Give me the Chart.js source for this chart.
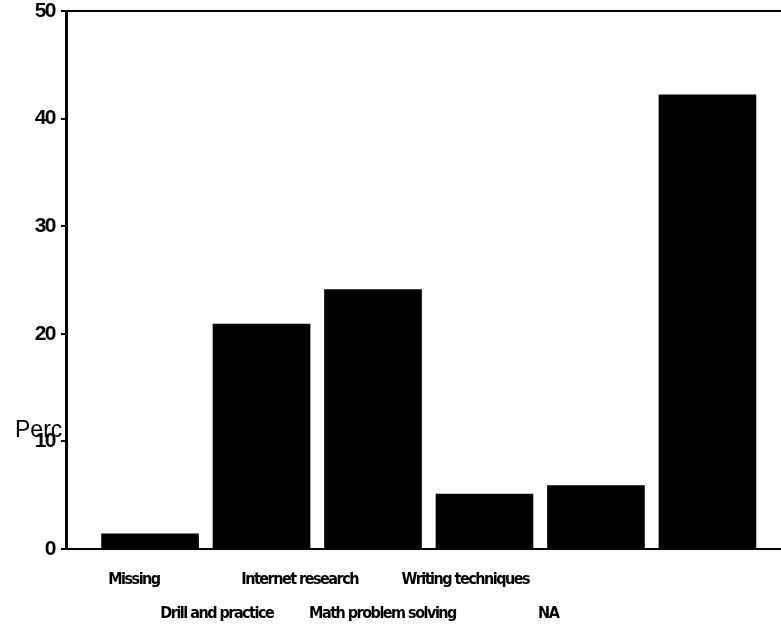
<!DOCTYPE html>
<html>
<head>
<meta charset="utf-8">
<script src="https://cdn.jsdelivr.net/npm/chart.js@4/dist/chart.umd.min.js"></script>
<style>
  body { margin: 0; background: #fff; }
  #wrap { width: 781px; height: 629px; }
</style>
</head>
<body>
<div id="wrap"><canvas id="myChart"></canvas></div>
<script>
const categories = [
  'Missing',
  'Drill and practice',
  'Internet research',
  'Math problem solving',
  'Writing techniques',
  'NA',
];
const percents = [1.4, 20.9, 24.1, 5.1, 5.9, 42.2];
const yTicks = [0, 10, 20, 30, 40, 50];

document.addEventListener('DOMContentLoaded', () => {
  const ctx = document.getElementById('myChart');

  // the scanned original has its labels on a tighter spacing than the bars
  const intTicks = scale => {
    scale.ticks = categories.map((c, i) => ({ value: i }));
  };

  const percLabel = {
    id: 'percLabel',
    beforeDraw(chart) {
      chart.ctx.letterSpacing = '-1.5px';
    },
    beforeDatasetsDraw(chart) {
      const c = chart.ctx;
      c.save();
      c.letterSpacing = '0px';
      c.font = '23px "Liberation Sans", Arial, sans-serif';
      c.fillStyle = '#000';
      c.textBaseline = 'middle';
      c.textAlign = 'left';
      c.fillText('Perc', 15, 431);
      c.restore();
    },
    afterDraw(chart) {
      chart.ctx.letterSpacing = '0px';
    }
  };

  const config = {
    type: 'bar',
    data: {
      datasets: [{
        data: percents.map((v, i) => ({ x: i, y: v })),
        backgroundColor: '#000',
        borderWidth: 0,
        barThickness: 97,
      }]
    },
    options: {
      responsive: true,
      maintainAspectRatio: false,
      animation: false,
      layout: { padding: { top: 11, right: 0, left: 0, bottom: 0 } },
      plugins: {
        legend: { display: false },
        tooltip: { enabled: false }
      },
      scales: {
        x: {
          type: 'linear',
          position: 'bottom',
          offset: false,
          weight: 0,
          min: -0.754,
          max: 5.66,
          afterBuildTicks: intTicks,
          afterFit: s => { s.height = 8; },
          ticks: { display: false },
          grid: { display: false, offset: false },
          border: { display: true, color: '#000', width: 2 }
        },
        xl: {
          type: 'linear',
          position: 'bottom',
          offset: false,
          weight: 1,
          min: -0.82,
          max: 7.81,
          afterBuildTicks: intTicks,
          afterFit: s => { s.height = 72; },
          grid: { display: false, drawTicks: false, offset: false },
          border: { display: false },
          ticks: {
            autoSkip: false,
            maxRotation: 0,
            minRotation: 0,
            padding: 6,
            color: '#000',
            font: { family: '"DejaVu Sans Condensed", "Liberation Sans", sans-serif', size: 16, weight: 'bold', lineHeight: 2.1 },
            callback: v => {
              const lbl = categories[v];
              return v % 2 === 0 ? lbl : ['', lbl];
            }
          }
        },
        y: {
          min: 0,
          max: 50,
          afterBuildTicks: s => { s.ticks = yTicks.map(v => ({ value: v })); },
          afterFit: s => { s.width = 66; s.paddingTop = 0; s.paddingBottom = 0; },
          ticks: {
            padding: 6,
            color: '#000',
            font: { family: '"Liberation Sans", Arial, sans-serif', size: 21, weight: 'bold' }
          },
          grid: {
            color: c => (c.tick && c.tick.value === 50 ? '#000' : 'rgba(0,0,0,0)'),
            lineWidth: 2,
            tickColor: '#000',
            tickLength: 5,
            tickWidth: 2
          },
          border: { display: true, color: '#000', width: 3 }
        }
      }
    },
    plugins: [percLabel]
  };
  const myChart = new Chart(ctx, config);
});
</script>
</body>
</html>
